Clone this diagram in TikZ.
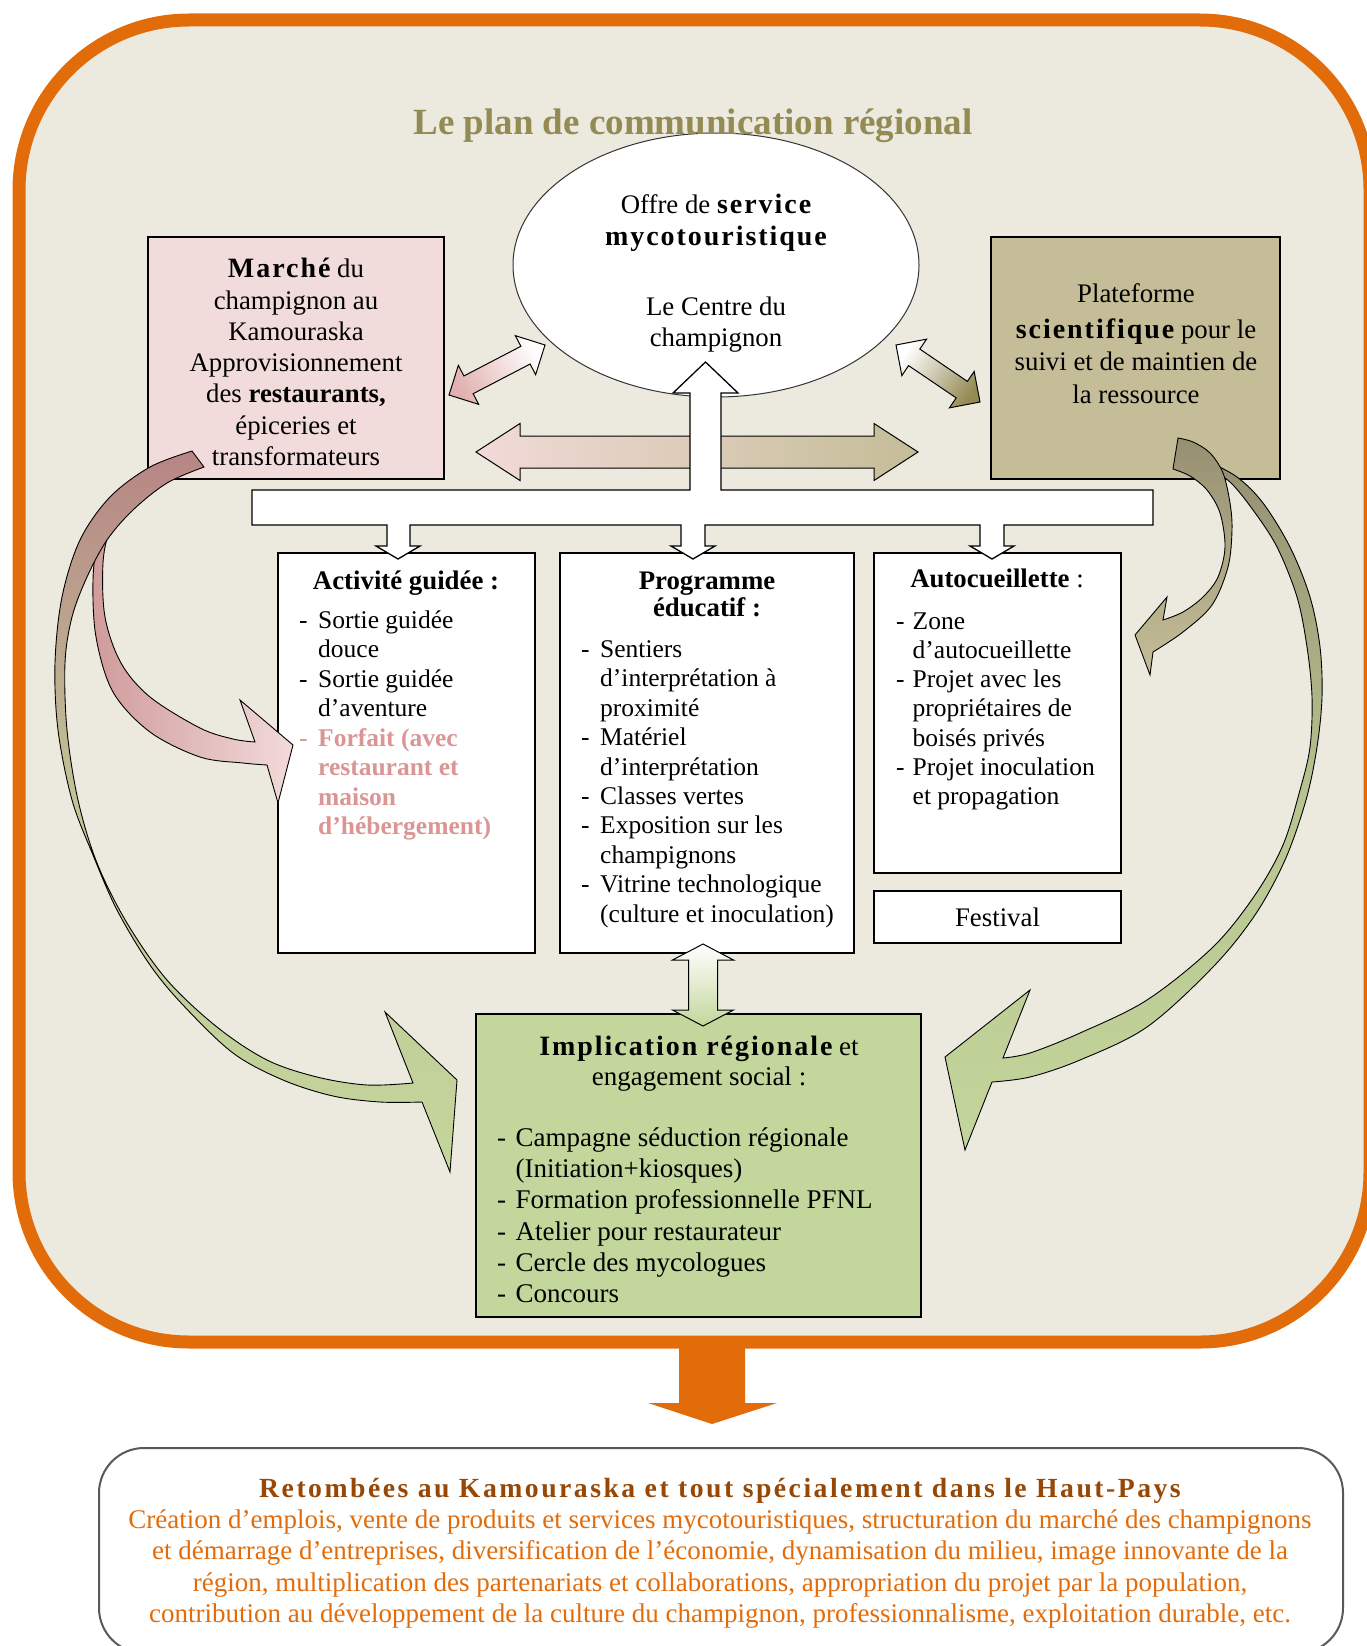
\documentclass[tikz,border=0pt]{standalone}
\usepackage{fontspec}
\setmainfont{Liberation Serif}
\newfontfamily\widefont[LetterSpace=7]{Liberation Serif}
\newfontfamily\widerfont[LetterSpace=9]{Liberation Serif}
\usetikzlibrary{calc,shapes.geometric}
\definecolor{orangeB}{RGB}{227,108,10}
\definecolor{beige}{RGB}{236,234,223}
\definecolor{pinkbox}{RGB}{242,220,219}
\definecolor{tanbox}{RGB}{196,189,151}
\definecolor{olivedark}{RGB}{148,138,84}
\definecolor{greenbox}{RGB}{195,214,155}
\definecolor{titlecol}{RGB}{148,138,84}
\definecolor{brownT}{RGB}{152,72,6}
\definecolor{pinktext}{RGB}{218,150,148}
\definecolor{pinkdark}{RGB}{183,133,133}
\definecolor{pinkmid}{RGB}{208,155,155}
\definecolor{pinklight}{RGB}{243,218,218}
\definecolor{pinkdiag}{RGB}{226,176,176}
\definecolor{hpink}{RGB}{242,218,216}
\definecolor{olivegray}{RGB}{150,144,114}
\newcommand\wb[1]{{\widefont\bfseries\fontsize{28}{31}\selectfont #1}}
% double block arrow: #1 start, #2 end, #3 shaft half width, #4 head half width, #5 head length, #6 style
\newcommand\dbarrow[6]{%
  \path[#6] (#1)
  -- ($(#1)!#5!(#2)!#4!90:(#2)$)
  -- ($(#1)!#5!(#2)!#3!90:(#2)$)
  -- ($(#2)!#5!(#1)!#3!-90:(#1)$)
  -- ($(#2)!#5!(#1)!#4!-90:(#1)$)
  -- (#2)
  -- ($(#2)!#5!(#1)!#4!90:(#1)$)
  -- ($(#2)!#5!(#1)!#3!90:(#1)$)
  -- ($(#1)!#5!(#2)!#3!-90:(#2)$)
  -- ($(#1)!#5!(#2)!#4!-90:(#2)$)
  -- cycle;}
\begin{document}
\begin{tikzpicture}[x=1pt,y=-1pt,line join=miter,
  box/.style={draw=black,line width=1.3pt,inner sep=0pt},
  tc/.style={inner sep=0pt,anchor=base,font=\fontsize{26.8}{31}\selectfont},
  tl/.style={inner sep=0pt,anchor=base west,font=\fontsize{25.5}{29}\selectfont},
  ti/.style={inner sep=0pt,anchor=base west,font=\fontsize{27}{31}\selectfont},
  ot/.style={inner sep=0pt,anchor=base,text=orangeB,font=\fontsize{27}{31}\selectfont},
  curved/.style={draw=black,line width=0.9pt}]
\useasboundingbox (0,0) rectangle (1366,1646);
\fill[white] (0,0) rectangle (1366,1646);
% outer panel
\draw[draw=orangeB,line width=13pt,fill=beige,rounded corners=170pt] (19,20) rectangle (1370,1342);
% bottom orange arrow
\fill[orangeB] (679,1340) -- (745,1340) -- (745,1403) -- (777,1403) -- (712,1424) -- (648,1403) -- (679,1403) -- cycle;
% bottom box
\node[draw=black!65,line width=2pt,fill=white,rounded corners=45pt,minimum width=1244pt,minimum height=205pt,inner sep=0pt,anchor=north west] (ret) at (98,1447) {};
% boxes
\node[box,fill=pinkbox,minimum width=296pt,minimum height=242pt] (marche) at (296,358) {};
\node[box,fill=tanbox,minimum width=289pt,minimum height=242pt] (plate) at (1135.5,358) {};
\node[box,fill=white,minimum width=257pt,minimum height=400pt] (activ) at (406.5,753) {};
\node[box,fill=white,minimum width=294pt,minimum height=400pt] (prog) at (707,753) {};
\node[box,fill=white,minimum width=247pt,minimum height=320pt] (auto) at (997.5,713) {};
\node[box,fill=white,minimum width=247pt,minimum height=52pt] (fest) at (997.5,917) {};
\node[box,fill=greenbox,minimum width=445pt,minimum height=303pt] (impl) at (698.5,1165.5) {};
\node[draw=black!80,line width=1pt,ellipse,fill=white,minimum width=406pt,minimum height=264pt,inner sep=0pt] (offre) at (716,265) {};
% horizontal double arrow
\coordinate (hL) at (476,452); \coordinate (hR) at (918,452);
\dbarrow{hL}{hR}{16pt}{28.5pt}{44pt}{draw=black,line width=1pt,left color=hpink,right color=tanbox}
% T shaped distributor with arrows
\path[draw=black,line width=1.3pt,fill=white] (252,490) -- (690,490) -- (690,393) -- (673,393) -- (705.5,362) -- (738,393) -- (721,393) -- (721,490) -- (1153,490) -- (1153,525) -- (1004,525) -- (1004,546) -- (1014,546) -- (992,559) -- (970,546) -- (980,546) -- (980,525) -- (705,525) -- (705,546) -- (715,546) -- (693,559) -- (671,546) -- (681,546) -- (681,525) -- (410,525) -- (410,546) -- (420,546) -- (398,559) -- (376,546) -- (387,546) -- (387,525) -- (252,525) -- cycle;
% diagonal double arrows
\coordinate (dL1) at (449,395); \coordinate (dL2) at (545,345);
\dbarrow{dL1}{dL2}{10pt}{22pt}{22pt}{draw=black,line width=1pt,top color=white,bottom color=pinkdiag,shading angle=-62.5}
\coordinate (dR1) at (896,345); \coordinate (dR2) at (980,402);
\dbarrow{dR1}{dR2}{10pt}{22pt}{22pt}{draw=black,line width=1pt,top color=olivedark,bottom color=white,shading angle=-124}
% vertical double arrow
\coordinate (vT) at (703,944); \coordinate (vB) at (703,1026);
\dbarrow{vT}{vB}{14.5pt}{30.5pt}{16pt}{draw=black,line width=1pt,top color=white,bottom color=greenbox}
% left curved arrows
\path[curved,left color=pinkmid,right color=pinklight]
  plot[smooth,tension=0.55] coordinates {(126,503) (110,530) (103,563) (105,617) (121,663) (150,697) (200,728) (233,739) (255,742)}
  -- (240,700) -- (293,745) -- (278,803) -- (267,765)
  -- plot[smooth,tension=0.55] coordinates {(267,765) (243,763) (200,757) (150,732) (113,692) (96,637) (93,580) (98,540) (110,512)}
  -- cycle;
\path[curved,top color=pinkdark,bottom color=greenbox,middle color=greenbox!80!pinkdark]
  plot[smooth,tension=0.55] coordinates {(192,451) (150,467) (110,497) (80,540) (62,597) (55,663) (58,730) (72,800) (93,855) (117,910) (150,965) (183,1005) (233,1053) (283,1080) (333,1096) (380,1102) (422,1102)}
  -- (450,1172) -- (457,1080) -- (385,1012) -- (413,1083)
  -- plot[smooth,tension=0.55] coordinates {(413,1083) (367,1085) (317,1077) (267,1060) (217,1027) (167,980) (127,923) (97,863) (78,800) (67,730) (65,663) (72,617) (87,577) (107,540) (133,510) (167,483) (204,467)}
  -- cycle;
% right curved arrows
\path[curved,top color=olivegray,bottom color=greenbox,middle color=greenbox!75!olivegray]
  plot[smooth,tension=0.55] coordinates {(1207,461) (1237,477) (1263,503) (1290,547) (1310,597) (1320,647) (1322,697) (1317,747) (1306,800) (1285,860) (1255,915) (1213,967) (1147,1027) (1080,1060) (1030,1077) (992,1082)}
  -- (965,1150) -- (945,1057) -- (1030,990) -- (1003,1058)
  -- plot[smooth,tension=0.55] coordinates {(1003,1058) (1030,1053) (1080,1033) (1147,1000) (1213,947) (1255,895) (1283,845) (1300,790) (1310,747) (1312,697) (1307,647) (1297,597) (1277,547) (1253,510) (1230,482) (1207,467)}
  -- cycle;
\path[curved,top color=olivegray,bottom color=tanbox]
  plot[smooth,tension=0.55] coordinates {(1178,438) (1193,442) (1210,453) (1223,473) (1230,503) (1232,530) (1228,567) (1212,605) (1183,632) (1153,652)}
  -- (1150,675) -- (1135,635) -- (1167,597) -- (1163,620)
  -- plot[smooth,tension=0.55] coordinates {(1163,620) (1183,612) (1203,597) (1218,577) (1225,547) (1220,513) (1207,490) (1190,476) (1173,469)}
  -- cycle;
% ---------- texts ----------
\node[inner sep=0pt,anchor=base,font=\fontsize{37}{40}\selectfont\bfseries,text=titlecol] (title) at (693,134) {Le plan de communication régional};
\node[tc] (of1) at (716,213) {Offre de \wb{service}};
\node[tc] (of2) at (716,245) {\wb{mycotouristique}};
\node[tc] (of3) at (716,315) {Le Centre du};
\node[tc] (of4) at (716,346) {champignon};
\node[tc] (m1) at (296,277) {\wb{Marché} du};
\node[tc] (m2) at (296,309) {champignon au};
\node[tc] (m3) at (296,340) {Kamouraska};
\node[tc] (m4) at (296,371) {Approvisionnement};
\node[tc] (m5) at (296,402) {des \textbf{restaurants,}};
\node[tc] (m6) at (296,434) {épiceries et};
\node[tc] (m7) at (296,465) {transformateurs};
\node[tc] (p1) at (1136,302) {Plateforme};
\node[tc] (p2) at (1136,338) {\wb{scientifique} pour le};
\node[tc] (p3) at (1136,370) {suivi et de maintien de};
\node[tc] (p4) at (1136,403) {la ressource};
% Activite
\node[tc,font=\fontsize{26.8}{31}\selectfont\bfseries] (aT) at (406,589) {Activité guidée :};
\node[tl] (ad1) at (299,628) {-};
\node[tl] (a1) at (318,628) {Sortie guidée};
\node[tl] (a2) at (318,657.5) {douce};
\node[tl] (ad2) at (299,687) {-};
\node[tl] (a3) at (318,687) {Sortie guidée};
\node[tl] (a4) at (318,716.5) {d’aventure};
\node[tl,text=pinktext] (ad3) at (299,746) {-};
\node[tl,text=pinktext,font=\fontsize{25.5}{29}\selectfont\bfseries] (a5) at (318,746) {Forfait (avec};
\node[tl,text=pinktext,font=\fontsize{25.5}{29}\selectfont\bfseries] (a6) at (318,775.5) {restaurant et};
\node[tl,text=pinktext,font=\fontsize{25.5}{29}\selectfont\bfseries] (a7) at (318,805) {maison};
\node[tl,text=pinktext,font=\fontsize{25.5}{29}\selectfont\bfseries] (a8) at (318,834.5) {d’hébergement)};
% Programme
\node[tc,font=\fontsize{26.8}{31}\selectfont\bfseries] (prT1) at (707,589) {Programme};
\node[tc,font=\fontsize{26.8}{31}\selectfont\bfseries] (prT2) at (707,616) {éducatif :};
\node[tl] (prd1) at (581,657.5) {-};
\node[tl] (pr1) at (600,657.5) {Sentiers};
\node[tl] (pr2) at (600,686.9) {d’interprétation à};
\node[tl] (pr3) at (600,716.3) {proximité};
\node[tl] (prd2) at (581,745.7) {-};
\node[tl] (pr4) at (600,745.7) {Matériel};
\node[tl] (pr5) at (600,775.1) {d’interprétation};
\node[tl] (prd3) at (581,804.5) {-};
\node[tl] (pr6) at (600,804.5) {Classes vertes};
\node[tl] (prd4) at (581,833.9) {-};
\node[tl] (pr7) at (600,833.9) {Exposition sur les};
\node[tl] (pr8) at (600,863.3) {champignons};
\node[tl] (prd5) at (581,892.7) {-};
\node[tl] (pr9) at (600,892.7) {Vitrine technologique};
\node[tl] (pr10) at (600,922.1) {(culture et inoculation)};
% Autocueillette
\node[tc] (auT) at (997,587) {\textbf{Autocueillette} :};
\node[tl] (aud1) at (896,629) {-};
\node[tl] (au1) at (912.5,629) {Zone};
\node[tl] (au2) at (912.5,658.3) {d’autocueillette};
\node[tl] (aud2) at (896,687.6) {-};
\node[tl] (au3) at (912.5,687.6) {Projet avec les};
\node[tl] (au4) at (912.5,716.9) {propriétaires de};
\node[tl] (au5) at (912.5,746.2) {boisés privés};
\node[tl] (aud3) at (896,775.5) {-};
\node[tl] (au6) at (912.5,775.5) {Projet inoculation};
\node[tl] (au7) at (912.5,804.8) {et propagation};
\node[tc] (fe) at (997.5,926) {Festival};
% Implication
\node[tc,font=\fontsize{27}{31}\selectfont] (iT1) at (699,1055) {\wb{Implication régionale} et};
\node[tc,font=\fontsize{27}{31}\selectfont] (iT2) at (699,1085) {engagement social :};
\node[ti] (id1) at (497,1146.5) {-};
\node[ti] (i1) at (515.5,1146.5) {Campagne séduction régionale};
\node[ti] (i2) at (515.5,1177.7) {(Initiation+kiosques)};
\node[ti] (id3) at (497,1208.9) {-};
\node[ti] (i3) at (515.5,1208.9) {Formation professionnelle PFNL};
\node[ti] (id4) at (497,1240.1) {-};
\node[ti] (i4) at (515.5,1240.1) {Atelier pour restaurateur};
\node[ti] (id5) at (497,1271.3) {-};
\node[ti] (i5) at (515.5,1271.3) {Cercle des mycologues};
\node[ti] (id6) at (497,1302.5) {-};
\node[ti] (i6) at (515.5,1302.5) {Concours};
% Retombees
\node[inner sep=0pt,anchor=base,text=brownT,font=\widerfont\bfseries\fontsize{27.7}{31}\selectfont] (rT) at (720,1497) {Retombées au Kamouraska et tout spécialement dans le Haut-Pays};
\node[ot] (r1) at (720,1528) {Création d’emplois, vente de produits et services mycotouristiques, structuration du marché des champignons};
\node[ot] (r2) at (720,1559.5) {et démarrage d’entreprises, diversification de l’économie, dynamisation du milieu, image innovante de la};
\node[ot] (r3) at (720,1591) {région, multiplication des partenariats et collaborations, appropriation du projet par la population,};
\node[ot] (r4) at (720,1622.5) {contribution au développement de la culture du champignon, professionnalisme, exploitation durable, etc.};
\end{tikzpicture}
\end{document}
